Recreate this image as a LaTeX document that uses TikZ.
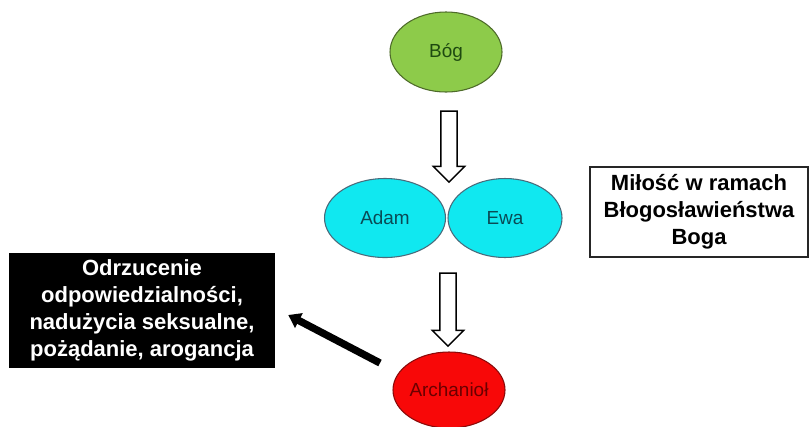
\documentclass[tikz,border=0pt]{standalone}
\usepackage{fontspec}
\setmainfont{Liberation Sans}
\usetikzlibrary{shapes.geometric,shapes.arrows,arrows.meta,calc}
\definecolor{bogfill}{HTML}{8DCB4A}
\definecolor{bogline}{HTML}{4E6B2A}
\definecolor{bogtext}{HTML}{1E4A10}
\definecolor{cyanfill}{HTML}{10E8F0}
\definecolor{cyanline}{HTML}{4A6A7A}
\definecolor{cyantext}{HTML}{0A4A55}
\definecolor{redfill}{HTML}{F80808}
\definecolor{redline}{HTML}{8A0A0A}
\definecolor{redtext}{HTML}{6A0000}
\tikzset{
  oval/.style={ellipse, draw, line width=0.8pt, inner sep=0pt, font=\fontsize{14.2pt}{17pt}\selectfont},
  hollowarrow/.style={single arrow, draw=black, fill=white, line width=1.1pt,
    inner xsep=0pt, inner ysep=5.6pt, rotate=-90,
    minimum width=22.5pt, single arrow head extend=5.6pt, single arrow tip angle=90,
    single arrow head indent=0pt},
  textbox/.style={rectangle, inner sep=0pt, align=center,
    font=\fontsize{16.5pt}{20.2pt}\selectfont\bfseries}
}
\begin{document}
\begin{tikzpicture}[x=0.75pt,y=-0.75pt]
\useasboundingbox (0,0) rectangle (810,426);
\node[oval, fill=bogfill, draw=bogline, text=bogtext, minimum width=84pt, minimum height=60pt] (bog) at (446,52) {Bóg};
\node[oval, fill=cyanfill, draw=cyanline, text=cyantext, minimum width=90.75pt, minimum height=59.25pt] (adam) at (385,218) {Adam};
\node[oval, fill=cyanfill, draw=cyanline, text=cyantext, minimum width=85.5pt, minimum height=59.25pt] (ewa) at (505,218) {Ewa};
\node[oval, fill=redfill, draw=redline, text=redtext, minimum width=84pt, minimum height=57pt] (arch) at (449,390) {Archanioł};
\node[textbox, draw=black!85, line width=1.1pt, minimum width=163.5pt, minimum height=67.5pt] (milosc) at (699,212) {Miłość w ramach\\Błogosławieństwa\\Boga};
\node[textbox, fill=black, text=white, minimum width=199.5pt, minimum height=86.25pt] (odrz) at (142,310.5) {Odrzucenie\\odpowiedzialności,\\nadużycia seksualne,\\pożądanie, arogancja};
% hollow arrows
\node[hollowarrow, minimum height=53.25pt] (a1) at (449,142.5) {};
\node[hollowarrow, minimum height=54.75pt] (a2) at (448,305.5) {};
% black arrow
\coordinate (tailc) at ($(arch.center)+(-69,-27)$);
\coordinate (tipc) at ($(odrz.east)+(13,4.5)$);
\draw[line width=5.5pt, -{Triangle[length=9pt,width=12pt]}] (tailc) -- (tipc);
\end{tikzpicture}
\end{document}
